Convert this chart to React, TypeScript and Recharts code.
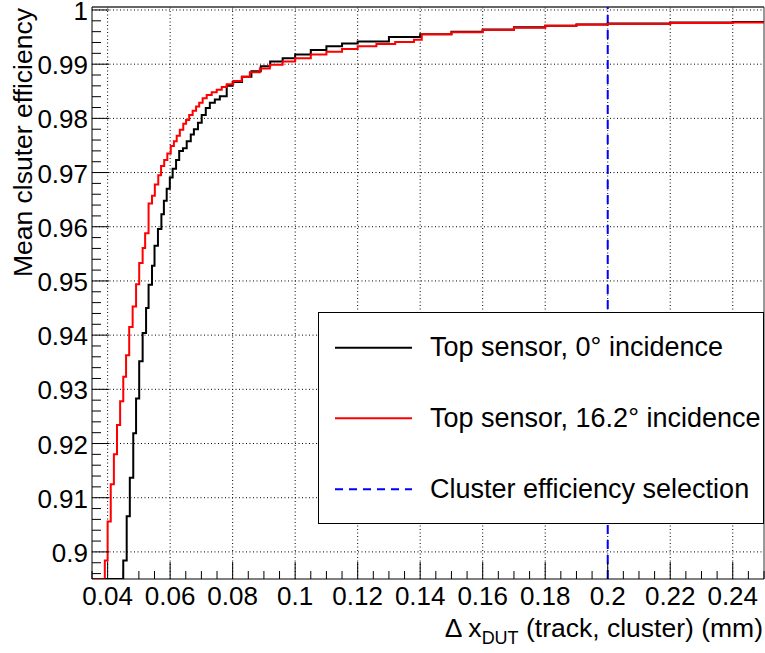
import React from "react";
import { LineChart, Line, XAxis, YAxis, ReferenceLine } from "recharts";

const W = 765;
const H = 653;
const PLOT = { left: 92, top: 7, right: 764, bottom: 579 };
const FONT = '"Liberation Sans", Arial, Helvetica, sans-serif';

const X_DOMAIN: [number, number] = [0.035, 0.25];
const Y_DOMAIN: [number, number] = [0.895, 1.00055];

// ---- Tick labels ----
const xMajorTicks = [0.04, 0.06, 0.08, 0.1, 0.12, 0.14, 0.16, 0.18, 0.2, 0.22, 0.24];
const xTickLabels = ["0.04", "0.06", "0.08", "0.1", "0.12", "0.14", "0.16", "0.18", "0.2", "0.22", "0.24"];
const yMajorTicks = [0.9, 0.91, 0.92, 0.93, 0.94, 0.95, 0.96, 0.97, 0.98, 0.99, 1.0];
const yTickLabels = ["0.9", "0.91", "0.92", "0.93", "0.94", "0.95", "0.96", "0.97", "0.98", "0.99", "1"];

const xAllTicks: number[] = [];
for (let i = 0; i <= 43; i++) xAllTicks.push(Math.round((0.035 + i * 0.005) * 10000) / 10000);
const yAllTicks: number[] = [];
for (let i = 0; i <= 52; i++) yAllTicks.push(Math.round((0.896 + i * 0.002) * 10000) / 10000);

// ---- Series: Top sensor, 0 deg incidence (black) ----
const blackX = [
  0.035, 0.045, 0.0461, 0.0471, 0.0482, 0.0491, 0.0501, 0.0512, 0.0523, 0.0531,
  0.0542, 0.055, 0.0561, 0.0572, 0.058, 0.0589, 0.0599, 0.0608, 0.0619, 0.0629,
  0.0641, 0.0653, 0.0666, 0.0676, 0.0689, 0.0701, 0.0714, 0.0727, 0.0743, 0.0759,
  0.0781, 0.08, 0.083, 0.086, 0.089, 0.092, 0.096, 0.1, 0.105, 0.11,
  0.115, 0.12, 0.13, 0.14, 0.15, 0.16, 0.17, 0.18, 0.19, 0.2,
  0.22, 0.24, 0.25,
];
const blackY = [
  0.895, 0.8984, 0.9066, 0.9137, 0.9219, 0.9283, 0.9352, 0.9404, 0.945, 0.9493,
  0.9528, 0.9565, 0.9596, 0.9623, 0.9648, 0.967, 0.9691, 0.9707, 0.9723, 0.974,
  0.9745, 0.9758, 0.977, 0.978, 0.9792, 0.9806, 0.9819, 0.9829, 0.9835, 0.9841,
  0.986, 0.9867, 0.9877, 0.9887, 0.9896, 0.9905, 0.9911, 0.9918, 0.9926, 0.9933,
  0.9938, 0.9942, 0.995, 0.9955, 0.996, 0.9964, 0.9968, 0.9971, 0.9973, 0.9975,
  0.9977, 0.9978, 0.9978,
];

// ---- Series: Top sensor, 16.2 deg incidence (red) ----
const redX = [
  0.035, 0.0391, 0.04, 0.041, 0.042, 0.043, 0.044, 0.045, 0.0459, 0.0469,
  0.048, 0.0491, 0.0501, 0.0512, 0.052, 0.0531, 0.0542, 0.0551, 0.0562, 0.0571,
  0.0581, 0.0591, 0.0602, 0.0612, 0.0621, 0.0631, 0.0642, 0.0651, 0.0661, 0.0672,
  0.0683, 0.0693, 0.0704, 0.0717, 0.0733, 0.0749, 0.0765, 0.0781, 0.0802, 0.0829,
  0.0855, 0.0887, 0.0919, 0.096, 0.1, 0.105, 0.11, 0.115, 0.12, 0.126,
  0.132, 0.138, 0.1405, 0.15, 0.16, 0.17, 0.18, 0.19, 0.2, 0.22,
  0.24, 0.25,
];
const redY = [
  0.895, 0.8984, 0.9056, 0.9125, 0.918, 0.9234, 0.9278, 0.9323, 0.9363, 0.9415,
  0.9453, 0.9494, 0.9533, 0.9561, 0.9588, 0.9643, 0.9657, 0.9678, 0.9695, 0.9712,
  0.9723, 0.9735, 0.9749, 0.9758, 0.9768, 0.9779, 0.979, 0.9797, 0.9806, 0.9814,
  0.9822, 0.9829, 0.9837, 0.9843, 0.9848, 0.9853, 0.9858, 0.9863, 0.9869, 0.9877,
  0.9885, 0.9892, 0.9899, 0.9905, 0.9911, 0.9918, 0.9923, 0.9928, 0.9933, 0.9937,
  0.9941, 0.9945, 0.9955, 0.9959, 0.9963, 0.9967, 0.9971, 0.9973, 0.9974, 0.9976,
  0.9977, 0.9977,
];

const SELECTION_X = 0.2;

const blackData = blackX.map((x, i) => ({ x, y: blackY[i] }));
const redData = redX.map((x, i) => ({ x, y: redY[i] }));

function XTick(props: any) {
  const { x, payload } = props;
  const v = payload.value;
  const idx = xMajorTicks.findIndex((m) => Math.abs(m - v) < 1e-7);
  const major = idx >= 0;
  return (
    <g>
      <line x1={x} x2={x} y1={PLOT.bottom} y2={PLOT.bottom - (major ? 17 : 8)} stroke="#000" strokeWidth={1} />
      {major && (
        <text x={x} y={605} textAnchor="middle" fontSize={26} fontFamily={FONT} fill="#000">
          {xTickLabels[idx]}
        </text>
      )}
    </g>
  );
}

function YTick(props: any) {
  const { y, payload } = props;
  const v = payload.value;
  const idx = yMajorTicks.findIndex((m) => Math.abs(m - v) < 1e-7);
  const major = idx >= 0;
  return (
    <g>
      <line x1={PLOT.left} x2={PLOT.left + (major ? 17 : 9)} y1={y} y2={y} stroke="#000" strokeWidth={1} />
      {major && (
        <text x={88} y={y + 10} textAnchor="end" fontSize={26} fontFamily={FONT} fill="#000">
          {yTickLabels[idx]}
        </text>
      )}
    </g>
  );
}

export default function App() {
  return (
    <div style={{ position: "absolute", left: 0, top: 0, width: W, height: H, background: "#fff" }}>
      <LineChart
        width={W}
        height={H}
        margin={{ top: PLOT.top, right: W - PLOT.right, bottom: 44, left: 32 }}
      >
        <XAxis
          type="number"
          dataKey="x"
          domain={X_DOMAIN}
          allowDataOverflow
          ticks={xAllTicks}
          interval={0}
          tick={<XTick />}
          tickLine={false}
          axisLine={{ stroke: "#000", strokeWidth: 1 }}
          height={30}
        />
        <YAxis
          type="number"
          dataKey="y"
          domain={Y_DOMAIN}
          allowDataOverflow
          ticks={yAllTicks}
          interval={0}
          tick={<YTick />}
          tickLine={false}
          axisLine={{ stroke: "#000", strokeWidth: 1 }}
          width={60}
        />
        {xMajorTicks.map((v) => (
          <ReferenceLine key={"gx" + v} x={v} stroke="#000" strokeWidth={1} strokeDasharray="1 2.5" />
        ))}
        {yMajorTicks.map((v) => (
          <ReferenceLine key={"gy" + v} y={v} stroke="#000" strokeWidth={1} strokeDasharray="1 2.5" />
        ))}
        <ReferenceLine y={Y_DOMAIN[1]} stroke="#333" strokeWidth={1.5} />
        <ReferenceLine x={X_DOMAIN[1]} stroke="#333" strokeWidth={1} />
        <ReferenceLine x={SELECTION_X} stroke="#0000ff" strokeWidth={2} strokeDasharray="9 6" />
        <Line
          data={blackData}
          dataKey="y"
          type="stepAfter"
          stroke="#000000"
          strokeWidth={2}
          dot={false}
          isAnimationActive={false}
          name="Top sensor, 0° incidence"
        />
        <Line
          data={redData}
          dataKey="y"
          type="stepAfter"
          stroke="#ff0000"
          strokeWidth={2}
          dot={false}
          isAnimationActive={false}
          name="Top sensor, 16.2° incidence"
        />
      </LineChart>
      <svg
        width={W}
        height={H}
        style={{ position: "absolute", left: 0, top: 0, pointerEvents: "none" }}
        fontFamily={FONT}
      >
        <text
          transform="translate(32, 8) rotate(-90)"
          textAnchor="end"
          fontSize={26.5}
          fill="#000"
        >
          Mean clsuter efficiency
        </text>
        <text x={763} y={637} textAnchor="end" fontSize={26.5} fill="#000">
          Δ x
          <tspan fontSize={18} dy={7}>DUT</tspan>
          <tspan dy={-7}> (track, cluster) (mm)</tspan>
        </text>
        <rect x={318.5} y={312.5} width={445} height={211} fill="#fff" stroke="#000" strokeWidth={1} />
        <line x1={335} x2={412} y1={347.7} y2={347.7} stroke="#000" strokeWidth={2} />
        <line x1={335} x2={412} y1={418.3} y2={418.3} stroke="#ff0000" strokeWidth={2} />
        <line x1={335} x2={412} y1={489.3} y2={489.3} stroke="#0000ff" strokeWidth={2} strokeDasharray="8 6" />
        <text x={430} y={356} fontSize={27} fill="#000">Top sensor, 0° incidence</text>
        <text x={430} y={427} fontSize={27} fill="#000">Top sensor, 16.2° incidence</text>
        <text x={430} y={498} fontSize={27} fill="#000">Cluster efficiency selection</text>
      </svg>
    </div>
  );
}
